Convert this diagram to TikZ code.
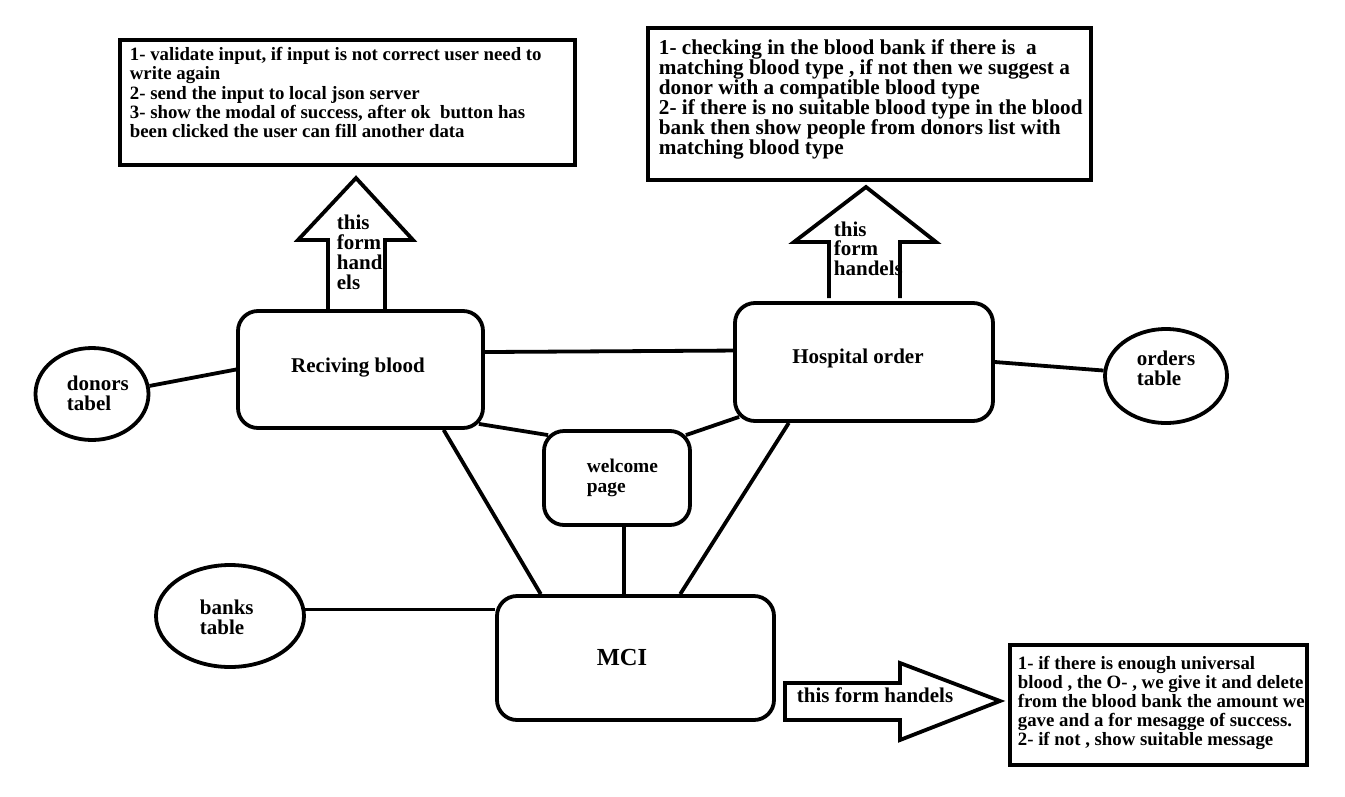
\documentclass[tikz,border=0pt]{standalone}
\usepackage{fontspec}
\setmainfont{Liberation Serif}
\usetikzlibrary{shapes.geometric}
\begin{document}
\begin{tikzpicture}[x=1pt,y=-1pt, line width=3.8pt, line join=miter,
  rbox/.style={draw, rectangle, rounded corners=20pt, inner sep=0pt},
  ell/.style={draw, ellipse, inner sep=0pt},
  tbox/.style={draw, rectangle, inner sep=0pt},
  lbl/.style={inner sep=0pt, align=left, font=\fontsize{21}{20}\selectfont\bfseries},
  ttext/.style={anchor=north west, inner sep=0pt, align=left}]
\fill[white] (0,0) rectangle (1345,796);
\useasboundingbox (0,0) rectangle (1345,796);

% text boxes
\node[tbox, minimum width=455, minimum height=125] (b1) at (347.5,102.5) {};
\node[ttext, font=\fontsize{18.8}{19.3}\selectfont\bfseries] (t1) at (128,45.5)
 {1- validate input, if input is not correct user need to\\
  write again\\
  2- send the input to local json server\\
  3- show the modal of success, after ok\ \ button has\\
  been clicked the user can fill another data};

\node[tbox, minimum width=443, minimum height=152] (b2) at (869.5,104) {};
\node[ttext, font=\fontsize{21.2}{20}\selectfont\bfseries] (t2) at (657,37.5)
 {1- checking in the blood bank if there is\ \ a\\
  matching blood type , if not then we suggest a\\
  donor with a compatible blood type\\
  2- if there is no suitable blood type in the blood\\
  bank then show people from donors list with\\
  matching blood type};

\begin{scope}
\clip (1010,645) rectangle (1307,765);
\node[ttext, font=\fontsize{18.8}{19}\selectfont\bfseries] (t3) at (1016,654.5)
 {1- if there is enough universal\\
  blood , the O- , we give it and delete\\
  from the blood bank the amount we\\
  gave and a for mesagge of success.\\
  2- if not , show suitable message};
\end{scope}
\node[tbox, minimum width=297, minimum height=120] (b3) at (1158.5,705) {};

% main boxes
\node[rbox, minimum width=245, minimum height=117] (rb) at (360.5,369.5) {};
\node[lbl] (rbl) at (358,367.5) {Reciving blood};
\node[rbox, minimum width=258, minimum height=118] (ho) at (864,362) {};
\node[lbl] (hol) at (858,358) {Hospital order};
\node[rbox, minimum width=146, minimum height=94] (wp) at (617,478) {};
\node[lbl, anchor=west, font=\fontsize{19.4}{19.5}\selectfont\bfseries] (wpl) at (585,478) {welcome\\page};
\node[rbox, minimum width=277, minimum height=124] (mci) at (635.5,658) {};
\node[lbl, font=\fontsize{24.5}{26}\selectfont\bfseries] (mcil) at (622,657) {MCI};

% ellipses
\node[ell, minimum width=113, minimum height=92] (dt) at (92,394) {};
\node[lbl, anchor=west] (dtl) at (65,393) {donors\\tabel};
\node[ell, minimum width=122, minimum height=94] (ot) at (1166,376) {};
\node[lbl, anchor=west] (otl) at (1135,368) {orders\\table};
\node[ell, minimum width=148, minimum height=102] (bt) at (230,616) {};
\node[lbl, anchor=west] (btl) at (198,617) {banks\\table};

% connectors
\draw (dt.8) -- (rb.west);
\draw (rb.8.6) -- (ho.175.6);
\draw (ho.east) -- (ot.175);
\draw ([shift={(-6,-6)}]rb.south east) -- ([shift={(6,6)}]wp.north west);
\draw ([shift={(6,-6)}]ho.south west) -- ([shift={(-6,6)}]wp.north east);
\draw (rb.-36.3) -- (mci.146.4);
\draw (ho.-141) -- (mci.55.4);
\draw (wp.-82) -- (wp.-82 |- mci.north);
\draw (bt.5) -- (bt.5 -| mci.west);

% block arrows
\draw (328,310) -- (328,240) -- (298,240) -- (356,178) -- (413,240) -- (385,240) -- (385,310);
\node[lbl, anchor=north west] (a1l) at (335,213) {this\\form\\hand\\els};
\draw (829,298) -- (829,242) -- (794,242) -- (866,187) -- (936,242) -- (900,242) -- (900,298);
\node[lbl, anchor=north west, font=\fontsize{21}{19.5}\selectfont\bfseries] (a2l) at (832,220) {this\\form\\handels};
\draw (785,683) -- (900,683) -- (900,663) -- (1000,701) -- (900,740) -- (900,720) -- (785,720) -- cycle;
\node[lbl, anchor=west] (a3l) at (795,695) {this form handels};
\end{tikzpicture}
\end{document}
